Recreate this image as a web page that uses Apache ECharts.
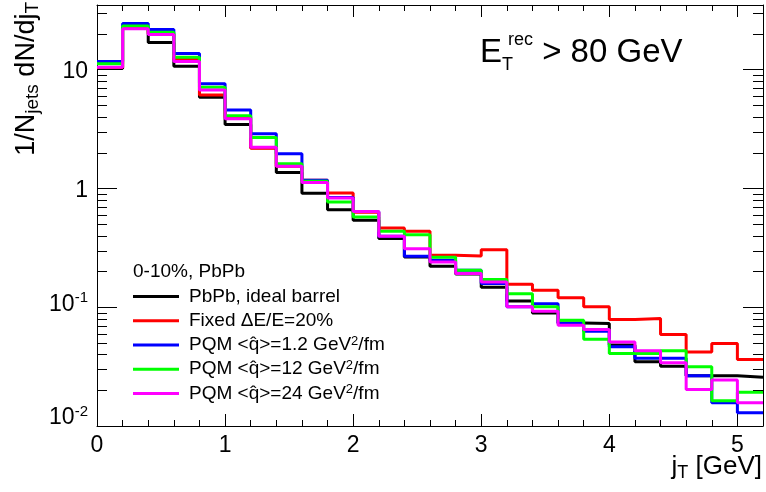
<!DOCTYPE html>
<html><head><meta charset="utf-8">
<script src="https://cdn.jsdelivr.net/npm/echarts@6/dist/echarts.min.js"></script>
<style>html,body{margin:0;padding:0;background:#fff}#c{width:766px;height:492px}</style>
</head><body><div id="c"></div>
<script>
// ---- data ----
const binEdges = [0,0.2,0.4,0.6,0.8,1.0,1.2,1.4,1.6,1.8,2.0,2.2,2.4,2.6,2.8,3.0,3.2,3.4,3.6,3.8,4.0,4.2,4.4,4.6,4.8,5.0,5.2];
const seriesNames = ['PbPb, ideal barrel','Fixed \u0394E/E=20%','PQM <q\u0302>=1.2 GeV\u00b2/fm','PQM <q\u0302>=12 GeV\u00b2/fm','PQM <q\u0302>=24 GeV\u00b2/fm'];
const idealBarrel = [10.2,22.5,16.9,10.7,5.85,3.45,2.2,1.36,0.91,0.66,0.54,0.378,0.265,0.221,0.19,0.147,0.113,0.0895,0.0738,0.073,0.048,0.0347,0.0319,0.0265,0.0265,0.0257];
const fixed20 = [10.4,22.3,20.0,12.3,6.12,3.97,2.18,1.54,1.17,0.916,0.63,0.464,0.435,0.274,0.27,0.305,0.156,0.139,0.120,0.1007,0.0789,0.0803,0.059,0.042,0.0496,0.0363];
const pqm1_2 = [11.7,24.5,21.8,13.7,7.59,4.58,2.88,1.96,1.17,0.84,0.64,0.395,0.268,0.248,0.205,0.158,0.101,0.107,0.073,0.0629,0.0464,0.0371,0.0371,0.0265,0.0157,0.0129];
const pqm12 = [11.2,23.3,20.6,12.7,7.10,4.10,2.68,1.61,1.15,0.767,0.574,0.435,0.408,0.263,0.205,0.171,0.130,0.1007,0.0778,0.0538,0.0408,0.0408,0.043,0.0315,0.0163,0.0192];
const pqm24 = [10.46,22.1,19.8,11.7,6.75,3.85,2.22,1.54,1.12,0.83,0.64,0.395,0.311,0.24,0.192,0.163,0.1007,0.0925,0.0706,0.065,0.051,0.043,0.034,0.0203,0.0244,0.0157];
const xTickLabels = ['0','1','2','3','4','5'];
const yMinorTicks = [0.02,0.03,0.04,0.05,0.06,0.07,0.08,0.09,0.2,0.3,0.4,0.5,0.6,0.7,0.8,0.9,2,3,4,5,6,7,8,9,20,30];
const xRange = [0, 5.2];
const yRange = [0.01, 35];

// ---- chart ----
const FONT = 'Liberation Sans, Arial, Helvetica, sans-serif';
const colors = ['#000000','#ff0000','#0000ff','#00ff00','#ff00ff'];
const allVals = [idealBarrel, fixed20, pqm1_2, pqm12, pqm24];

function stepData(vals){
  return binEdges.map((x,i)=>[x, vals[Math.min(i, vals.length-1)]]);
}

const lineSeries = allVals.map((vals,k)=>({
  name: seriesNames[k], type:'line', step:'end', data: stepData(vals),
  showSymbol:false, symbol:'none', xAxisIndex:0, yAxisIndex:0,
  lineStyle:{color:colors[k], width:3}, itemStyle:{color:colors[k]},
  emphasis:{disabled:true}, z: 3+k
}));

const minorTickSeries = {
  type:'custom', xAxisIndex:0, yAxisIndex:0, silent:true, clip:false, z:10,
  data: yMinorTicks.map(v=>[xRange[0], v]),
  renderItem(params, api){
    const v = api.value(1);
    const pL = api.coord([xRange[0], v]);
    const pR = api.coord([xRange[1], v]);
    const y = Math.round(pL[1]) + 0.5;
    return {type:'group', children:[
      {type:'line', shape:{x1:Math.round(pL[0]), y1:y, x2:Math.round(pL[0])+10, y2:y}, style:{stroke:'#000', lineWidth:1}},
      {type:'line', shape:{x1:Math.round(pR[0]), y1:y, x2:Math.round(pR[0])-10, y2:y}, style:{stroke:'#000', lineWidth:1}}
    ]};
  }
};

function yLabel(v){
  const e = Math.round(Math.log10(v));
  if (Math.abs(Math.log10(v) - e) > 1e-6) return '';
  if (e === 0) return '{g5| }\n{b|1}';
  if (e === 1) return '{g5| }\n{b|10}';
  if (e === -1) return '{b|10}{s|' + e + '}\n{g6| }';
  return '{b|10}{s|' + e + '}\n{g16| }';
}
function xLabel(v){
  const i = Math.round(v);
  if (Math.abs(v - i) > 1e-6) return '';
  return xTickLabels[i] !== undefined ? xTickLabels[i] : '';
}
function legendFmt(name){
  const p = name.split('\u00b2');
  if (p.length === 2) return '{t|' + p[0] + '}{s|2}{t|' + p[1] + '}';
  return '{t|' + name + '}';
}

const axisCommonX = {
  type:'value', min:xRange[0], max:xRange[1], interval:1,
  axisLine:{show:true, onZero:false, lineStyle:{color:'#000', width:1}},
  axisTick:{show:true, inside:true, length:12, lineStyle:{color:'#000', width:1}},
  minorTick:{show:true, splitNumber:5, length:6, lineStyle:{color:'#000', width:1}},
  splitLine:{show:false}, minorSplitLine:{show:false}
};
const axisCommonY = {
  type:'log', logBase:10, min:yRange[0], max:yRange[1],
  axisLine:{show:true, onZero:false, lineStyle:{color:'#000', width:1}},
  axisTick:{show:true, inside:true, length:20, lineStyle:{color:'#000', width:1}},
  minorTick:{show:false}, splitLine:{show:false}
};

const chart = echarts.init(document.getElementById('c'), null, {renderer:'canvas'});
chart.setOption({
  animation:false,
  backgroundColor:'#ffffff',
  grid:{left:97, right:3, top:5, bottom:66, containLabel:false},
  title:[
    {text:'{b|E}{sub|T}{sup|rec}{b| > 80 GeV}', left:480, top:31, padding:0,
     textStyle:{fontFamily:FONT, fontWeight:'normal', color:'#000', fontSize:33,
       rich:{
         b:{fontFamily:FONT, fontSize:33, lineHeight:43, color:'#000'},
         sub:{fontFamily:FONT, fontSize:18, lineHeight:8, width:6, verticalAlign:'bottom', color:'#000'},
         sup:{fontFamily:FONT, fontSize:18, lineHeight:28, verticalAlign:'top', color:'#000'}
       }}},
    {text:'0-10%, PbPb', left:133, top:261, padding:0,
     textStyle:{fontFamily:FONT, fontWeight:'normal', color:'#000', fontSize:19, lineHeight:21}}
  ],
  legend:{
    data: seriesNames, orient:'vertical', left:133, top:286, padding:0,
    itemWidth:46, itemHeight:3, itemGap:3.25, icon:'rect', selectedMode:false,
    formatter: legendFmt,
    textStyle:{fontFamily:FONT, fontSize:19, color:'#000', lineHeight:21, padding:[0,0,0,5],
      rich:{
        t:{fontFamily:FONT, fontSize:19, lineHeight:21, color:'#000'},
        s:{fontFamily:FONT, fontSize:13, lineHeight:10, verticalAlign:'top', color:'#000'}
      }}
  },
  xAxis:[
    Object.assign({}, axisCommonX, {position:'bottom',
      axisLabel:{show:true, formatter:xLabel, fontFamily:FONT, fontSize:23, color:'#000', margin:8,
        showMaxLabel:false}}),
    Object.assign({}, axisCommonX, {position:'top', axisLabel:{show:false}})
  ],
  yAxis:[
    Object.assign({}, axisCommonY, {position:'left',
      axisLabel:{show:true, formatter:yLabel, margin:9, fontFamily:FONT, color:'#000', showMaxLabel:false,
        rich:{
          b:{fontFamily:FONT, fontSize:23, lineHeight:28, color:'#000'},
          s:{fontFamily:FONT, fontSize:15, lineHeight:14, verticalAlign:'top', color:'#000'},
          g5:{fontSize:5, lineHeight:5},
          g6:{fontSize:6, lineHeight:6},
          g16:{fontSize:16, lineHeight:16}
        }}}),
    Object.assign({}, axisCommonY, {position:'right', axisLabel:{show:false}})
  ],
  graphic:[
    {type:'text', x:27, y:2, rotation:Math.PI/2, silent:true,
     style:{text:'{b|1/N}{sub|jets}{b| dN/dj}{sub|T}', align:'right', verticalAlign:'middle',
       fontFamily:FONT, fontSize:27, fill:'#000',
       rich:{
         b:{fontFamily:FONT, fontSize:27, lineHeight:31, fill:'#000'},
         sub:{fontFamily:FONT, fontSize:19, lineHeight:8, verticalAlign:'bottom', fill:'#000'}
       }}},
    {type:'text', x:762, y:467, silent:true,
     style:{text:'{b|j}{sub|T}{b| [GeV]}', align:'right', verticalAlign:'middle',
       fontFamily:FONT, fontSize:26, fill:'#000',
       rich:{
         b:{fontFamily:FONT, fontSize:26, lineHeight:30, fill:'#000'},
         sub:{fontFamily:FONT, fontSize:18, lineHeight:8, verticalAlign:'bottom', fill:'#000'}
       }}}
  ],
  series: lineSeries.concat([minorTickSeries])
});
</script>
</body></html>
